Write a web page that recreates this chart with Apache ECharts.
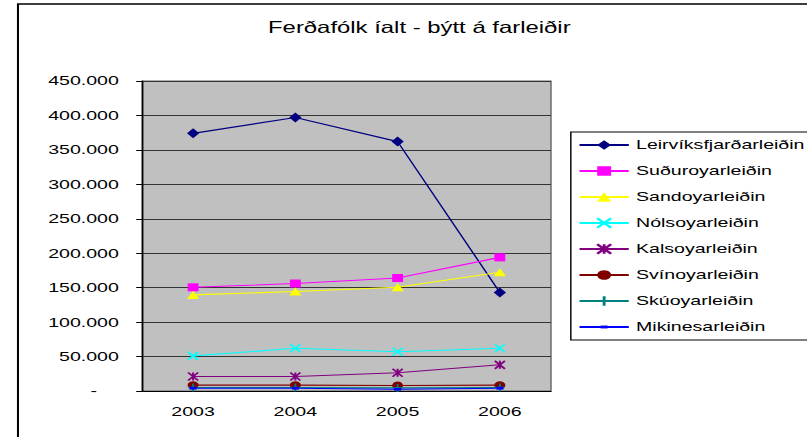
<!DOCTYPE html>
<html lang="fo">

<head>
    <meta charset="UTF-8" />
    <title>Ferðafólk íalt - býtt á farleiðir</title>
    <script src="https://cdn.jsdelivr.net/npm/echarts@6/dist/echarts.min.js"></script>
    <style>
        body { margin: 0; overflow: hidden; background: #fff; }
        /* the reference is drawn horizontally stretched, so the chart is laid out narrow and scaled in x */
        #main { width: 557px; height: 437px; transform: scaleX(1.4488); transform-origin: 0 0; }
    </style>
</head>

<body>
    <div id="main"></div>
    <script type="text/javascript">
        // data
        const years = ["2003", "2004", "2005", "2006"];
        const leirvik = [374000, 397000, 362000, 143000];
        const suduroy = [150500, 156000, 164000, 194000];
        const sandoy = [139500, 144500, 150500, 172500];
        const nolsoy = [51000, 62000, 57000, 62000];
        const kalsoy = [21000, 21000, 26500, 38000];
        const svinoy = [8500, 8500, 8000, 8500];
        const skuoy = [5000, 5000, 4500, 5000];
        const mikines = [4000, 4000, 2500, 4000];
        const yTicks = [0, 50000, 100000, 150000, 200000, 250000, 300000, 350000, 400000, 450000];

        const font = "'Liberation Sans', Arial, sans-serif";

        function fmt(v) {
            return String(v).replace(/\B(?=(\d{3})+(?!\d))/g, ".");
        }

        function line(name, data, color, symbol, size, stroked) {
            return {
                name: name,
                type: "line",
                data: data,
                symbol: symbol,
                symbolSize: size,
                lineStyle: { color: color, width: 1.1 },
                itemStyle: stroked
                    ? { color: color, borderColor: color, borderWidth: 1.5 }
                    : { color: color },
                emphasis: { disabled: true },
            };
        }

        const X = "path://M0,0L10,10M10,0L0,10";
        const STAR = "path://M0,0L10,10M10,0L0,10M5,0L5,10";
        const PLUS = "path://M5,0L5,10M0,5L10,5";
        // short dash centred in an empty 10x10 box
        const DASH = "path://M0,0M2.5,3.5L7.5,3.5L7.5,6.5L2.5,6.5ZM10,10";

        let options = {
            animation: false,
            textStyle: { fontFamily: font },
            graphic: [
                {
                    type: "rect",
                    shape: { x: 12.4, y: 4, width: 700, height: 600 },
                    style: { fill: "none", stroke: "#000", lineWidth: 1.4 },
                    z: -10,
                },
            ],
            title: {
                text: "Ferðafólk íalt - býtt á farleiðir",
                left: 180,
                top: 13,
                textStyle: { fontFamily: font, fontSize: 16.5, fontWeight: "normal", color: "#000" },
            },
            legend: {
                orient: "vertical",
                left: 394,
                top: 132,
                padding: [5, 5, 5, 5],
                itemWidth: 34,
                itemHeight: 12,
                itemGap: 10,
                backgroundColor: "#fff",
                borderColor: "#000",
                borderWidth: 1,
                textStyle: { fontFamily: font, fontSize: 13.5, lineHeight: 16, color: "#000" },
                data: ["Leirvíksfjarðarleiðin", "Suðuroyarleiðin", "Sandoyarleiðin", "Nólsoyarleiðin",
                    "Kalsoyarleiðin", "Svínoyarleiðin", "Skúoyarleiðin", "Mikinesarleiðin"],
            },
            grid: {
                left: 98,
                right: 176.7,
                top: 81,
                bottom: 46,
                show: true,
                backgroundColor: "#c0c0c0",
                borderColor: "#666",
                borderWidth: 1,
            },
            xAxis: {
                type: "category",
                data: years,
                boundaryGap: true,
                axisLine: { lineStyle: { color: "#000", width: 1 } },
                axisTick: { length: 4, lineStyle: { color: "#000" } },
                axisLabel: { margin: 14, fontSize: 13.5, color: "#000", fontFamily: font },
            },
            yAxis: {
                type: "value",
                min: yTicks[0],
                max: yTicks[yTicks.length - 1],
                interval: yTicks[1] - yTicks[0],
                axisLine: { show: true, lineStyle: { color: "#000", width: 1 } },
                axisTick: { show: true, length: 4, lineStyle: { color: "#000" } },
                splitLine: { lineStyle: { color: "#333", width: 1 } },
                axisLabel: {
                    margin: 16,
                    fontSize: 13.5,
                    color: "#000",
                    fontFamily: font,
                    formatter: (v) => (v === 0 ? "{d|-}" : fmt(v)),
                    rich: { d: { padding: [0, 15, 0, 0], fontSize: 13.5, color: "#000", fontFamily: font } },
                },
            },
            series: [
                line("Leirvíksfjarðarleiðin", leirvik, "#000080", "diamond", [8.5, 10], false),
                line("Suðuroyarleiðin", suduroy, "#ff00ff", "rect", [7.5, 8], false),
                line("Sandoyarleiðin", sandoy, "#ffff00", "triangle", [8.5, 8], false),
                line("Nólsoyarleiðin", nolsoy, "#00ffff", X, [7, 8], true),
                line("Kalsoyarleiðin", kalsoy, "#800080", STAR, [7, 8], true),
                line("Svínoyarleiðin", svinoy, "#800000", "circle", [7.5, 8], false),
                line("Skúoyarleiðin", skuoy, "#008080", PLUS, [6, 8], true),
                line("Mikinesarleiðin", mikines, "#0000ff", DASH, [10, 9], false),
            ],
        };

        let myChart = echarts.init(document.getElementById("main"), null, { renderer: "svg" });
        myChart.setOption(options);
    </script>
</body>

</html>
